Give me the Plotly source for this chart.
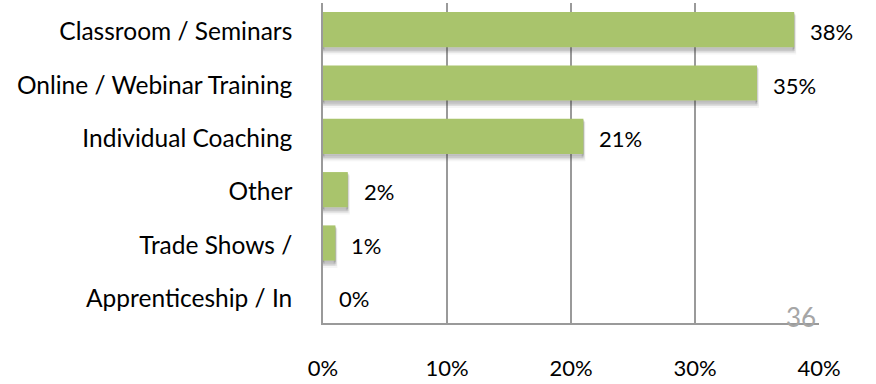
import plotly.graph_objects as go

# Training delivery methods and share of respondents (%)
categories = [
    "Classroom / Seminars",
    "Online / Webinar Training",
    "Individual Coaching",
    "Other",
    "Trade Shows /",
    "Apprenticeship / In",
]
values = [38, 35, 21, 2, 1, 0]
x_ticks = [0, 10, 20, 30, 40]
x_tick_labels = ["0%", "10%", "20%", "30%", "40%"]
slide_number = "36"

FONT = "Lato, 'Open Sans', sans-serif"
BAR_GREEN = "#A9C46C"
GRID_GRAY = "#9A9A9A"
BAR_WIDTH = 0.66

fig = go.Figure()

# soft drop shadow under each bar: a few faint, slightly shifted copies
for k, alpha in [(1, 0.10), (2, 0.09), (3, 0.07), (4, 0.05)]:
    fig.add_trace(go.Bar(
        x=values, y=categories, orientation="h",
        width=BAR_WIDTH, offset=-BAR_WIDTH / 2 + k * 0.025,
        marker=dict(color=f"rgba(60,60,60,{alpha})",
                    line=dict(color=f"rgba(60,60,60,{alpha})",
                              width=[k if v > 0 else 0 for v in values])),
        hoverinfo="skip", showlegend=False,
    ))

fig.add_trace(go.Bar(
    x=values, y=categories, orientation="h",
    width=BAR_WIDTH, offset=-BAR_WIDTH / 2,
    marker=dict(color=BAR_GREEN, line=dict(width=0)),
    showlegend=False,
))

# value labels to the right of each bar
for cat, v in zip(categories, values):
    fig.add_annotation(
        x=v, y=cat, xref="x", yref="y", text=f"{v}%",
        showarrow=False, xanchor="left", yanchor="middle",
        xshift=14, yshift=-2,
        font=dict(family=FONT, size=22, color="#000000"),
    )

# slide number in the lower right corner, resting on the axis line
fig.add_annotation(
    x=1, y=0, xref="paper", yref="paper", text=slide_number,
    showarrow=False, xanchor="right", yanchor="bottom", xshift=-1, yshift=-12,
    font=dict(family=FONT, size=26, color="#A6A6A6"),
)

fig.update_layout(
    width=876, height=384,
    margin=dict(l=322.5, r=57, t=2.5, b=47, pad=0),
    paper_bgcolor="white", plot_bgcolor="white",
    barmode="overlay", bargap=0.34,
    font=dict(family=FONT, size=22, color="#000000"),
    xaxis=dict(
        range=[0, 40], tickvals=x_ticks, ticktext=x_tick_labels,
        showgrid=True, gridcolor=GRID_GRAY, gridwidth=1.6,
        showline=True, linecolor=GRID_GRAY, linewidth=1.6,
        zeroline=False, ticks="", ticklabelstandoff=25,
        tickfont=dict(family=FONT, size=22, color="#000000"),
    ),
    yaxis=dict(
        categoryorder="array", categoryarray=categories,
        autorange="reversed",
        showgrid=False, showline=True, linecolor=GRID_GRAY, linewidth=1.6,
        zeroline=False, ticks="", ticklabelstandoff=24, ticklabelshift=-2,
        tickfont=dict(family=FONT, size=24.5, color="#000000"),
    ),
)

fig.write_html("out.html")
